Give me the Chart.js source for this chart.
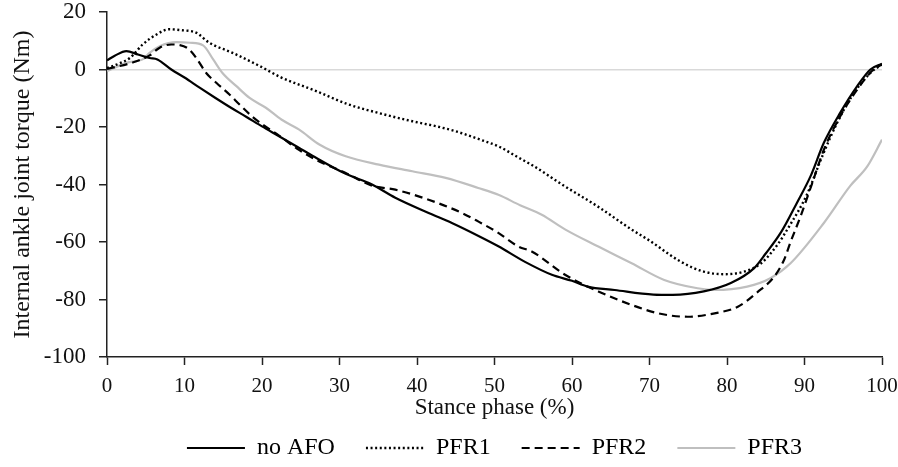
<!DOCTYPE html>
<html>
<head>
<meta charset="utf-8">
<script src="https://cdn.jsdelivr.net/npm/chart.js@4.4.0/dist/chart.umd.min.js"></script>
<style>
  html, body { margin: 0; padding: 0; background: #fff; }
  #wrap { width: 898px; height: 467px; }
</style>
</head>
<body>
<div id="wrap"><canvas id="myChart" width="898" height="467"></canvas></div>
<script>
// stance phase (%) and torque (Nm)
var noAfoPhase  = [0, 1, 2.5, 4, 5.5, 6.5, 8.3, 10, 12, 14, 16, 18, 20, 22.2, 24.8, 26.5, 30.8, 34.2, 37.2, 41.5, 44.5, 48, 50.5, 54, 57.4, 60, 62, 65.5, 70.5, 73, 77, 80.5, 83.5, 85, 87, 89, 90.8, 92.5, 94.6, 96.8, 98.5, 100];
var noAfoTorque = [3.2, 4.8, 6.4, 5.2, 4.0, 3.5, 0, -2.8, -6.4, -9.9, -13.3, -16.5, -19.8, -23.2, -27.3, -30, -36.3, -40, -44.6, -49.9, -53.4, -58, -61.5, -67, -71.4, -73.5, -75.5, -76.7, -78.3, -78.4, -77.2, -74.3, -69.1, -64, -56.5, -46.5, -37, -25.5, -15.1, -5.8, 0, 2];

var pfr1Phase  = [0, 1.5, 3, 4.6, 6.4, 8, 9.5, 11.5, 13.2, 16.2, 19.7, 22.5, 27, 31, 35, 39.4, 42.4, 45, 48.8, 50.5, 53, 55, 59, 63.3, 67.6, 70, 74, 77, 79.7, 82.2, 84.4, 86.5, 87.7, 90.4, 92.1, 94.2, 96.4, 98.5, 100];
var pfr1Torque = [0.5, 2, 4.1, 8.7, 12.2, 14, 13.7, 12.8, 9.3, 5.8, 1.2, -2.8, -7.5, -12, -15.1, -18, -19.7, -21.5, -25, -26.7, -30.5, -33.5, -40.5, -47.6, -55.5, -59.5, -66.8, -70.3, -71.2, -70.3, -67.4, -61, -56, -43, -31.4, -18.6, -8.1, -1.2, 1.8];

var pfr2Phase  = [0, 3.4, 5.5, 6.8, 8.3, 9.4, 10.5, 11.5, 12.8, 14.1, 15.8, 17.1, 18.8, 20.1, 22.2, 24.5, 27.4, 30.8, 34.2, 37.2, 41.5, 45.8, 48, 50.3, 53.1, 54.8, 59.1, 63.4, 67.7, 71.1, 74.9, 78.4, 81.4, 83.9, 86.1, 87.4, 88.2, 89.5, 91, 92.5, 94.6, 96.8, 98.9, 100];
var pfr2Torque = [0.2, 2.5, 4.9, 7.6, 8.7, 8.5, 7.2, 4.1, -1.2, -4.6, -8.7, -12.2, -16.5, -19.2, -23, -27.5, -32, -36, -40.4, -41.8, -45.3, -49.9, -53, -56.5, -61.6, -63.3, -71.4, -77.2, -81.9, -84.8, -86, -84.8, -82.5, -77.5, -72, -66, -60, -51, -39.5, -27.9, -16.3, -7, 0, 1.7];

var pfr3Phase  = [0, 2.5, 4.7, 5.5, 6.8, 9, 10.7, 12.4, 13.7, 14.9, 16.7, 18.4, 20.5, 22.5, 24.8, 27.4, 30.8, 35.1, 39.4, 43.7, 47.9, 50.5, 53.3, 56.1, 59.1, 63.4, 67.7, 71.9, 76.2, 78.4, 82.6, 85.6, 88.2, 92.5, 95.9, 98.1, 100];
var pfr3Torque = [-0.5, 2.3, 3.7, 5.8, 8.1, 9.5, 9.3, 8.4, 3.5, -1.2, -5.8, -9.9, -13.3, -17.4, -20.9, -26.1, -30.2, -33.1, -35.4, -37.7, -41.2, -43.6, -47.2, -50.5, -55.6, -61.6, -67.4, -73.2, -76.1, -76.7, -75.5, -72.6, -67.4, -53.4, -40.5, -33.7, -24.4];

var seriesNames = ['no AFO', 'PFR1', 'PFR2', 'PFR3'];
var xTicks = [0, 10, 20, 30, 40, 50, 60, 70, 80, 90, 100];
var yTicks = [-100, -80, -60, -40, -20, 0, 20];

function pts(xs, ys) {
  return xs.map(function(x, i) { return {x: x, y: ys[i]}; });
}

var serif = '"Liberation Serif", "Times New Roman", serif';

var ctx = document.getElementById('myChart');
new Chart(ctx, {
  type: 'line',
  data: {
    datasets: [{
      label: seriesNames[0],
      data: pts(noAfoPhase, noAfoTorque),
      borderColor: '#000',
      borderWidth: 2.2
    }, {
      label: seriesNames[1],
      data: pts(pfr1Phase, pfr1Torque),
      borderColor: '#000',
      borderWidth: 2.4,
      borderDash: [2, 2.6]
    }, {
      label: seriesNames[2],
      data: pts(pfr2Phase, pfr2Torque),
      borderColor: '#000',
      borderWidth: 2.2,
      borderDash: [8, 5]
    }, {
      label: seriesNames[3],
      data: pts(pfr3Phase, pfr3Torque),
      borderColor: '#bfbfbf',
      borderWidth: 2.2
    }]
  },
  options: {
    responsive: false,
    animation: false,
    layout: { padding: { left: 8, right: 16, top: 12, bottom: -3 } },
    elements: {
      point: { radius: 0 },
      line: { cubicInterpolationMode: 'monotone', fill: false }
    },
    plugins: {
      tooltip: { enabled: false },
      legend: {
        position: 'bottom',
        fullSize: false,
        labels: {
          usePointStyle: true,
          pointStyle: 'line',
          pointStyleWidth: 58,
          padding: 31,
          color: '#111',
          font: { family: serif, size: 24 },
          generateLabels: function(chart) {
            return chart.data.datasets.map(function(ds, i) {
              return {
                text: ds.label,
                strokeStyle: ds.borderColor,
                fillStyle: ds.borderColor,
                lineWidth: ds.borderWidth,
                lineDash: ds.borderDash || [],
                pointStyle: 'line',
                hidden: false,
                datasetIndex: i
              };
            });
          }
        }
      }
    },
    scales: {
      x: {
        type: 'linear',
        min: 0,
        max: 100,
        afterBuildTicks: function(scale) {
          scale.ticks = xTicks.map(function(v) { return {value: v}; });
        },
        afterFit: function(scale) {
          scale.height = 48;
          scale.paddingLeft = 0;
          scale.paddingRight = 0;
        },
        grid: {
          drawOnChartArea: false,
          tickLength: 8,
          tickColor: '#222',
          tickWidth: 1.5
        },
        border: { color: '#222', width: 1.5 },
        ticks: {
          padding: 9,
          maxRotation: 0,
          color: '#111',
          font: { family: serif, size: 21 }
        },
        title: {
          display: true,
          text: 'Stance phase (%)',
          color: '#111',
          padding: { top: -5, bottom: -17 },
          font: { family: serif, size: 23 }
        }
      },
      y: {
        min: -100,
        max: 20,
        afterBuildTicks: function(scale) {
          scale.ticks = yTicks.map(function(v) { return {value: v}; });
        },
        afterFit: function(scale) {
          scale.width = 99;
          scale.paddingTop = 0;
          scale.paddingBottom = 0;
        },
        grid: {
          color: function(c) { return c.tick && c.tick.value === 0 ? '#d9d9d9' : 'rgba(0,0,0,0)'; },
          lineWidth: 1.5,
          tickLength: 8,
          tickColor: '#222',
          tickWidth: 1.5
        },
        border: { color: '#222', width: 1.5 },
        ticks: {
          padding: 13,
          color: '#111',
          font: { family: serif, size: 23 }
        },
        title: {
          display: true,
          text: 'Internal ankle joint torque (Nm)',
          color: '#111',
          padding: { top: 0, bottom: 0 },
          font: { family: serif, size: 24 }
        }
      }
    }
  }
});
</script>
</body>
</html>
